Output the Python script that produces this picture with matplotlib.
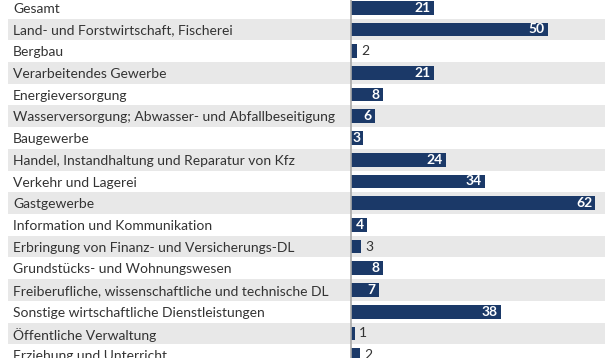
import matplotlib
matplotlib.use("Agg")
import matplotlib.pyplot as plt
from matplotlib.transforms import blended_transform_factory

categories = [
    "Gesamt",
    "Land- und Forstwirtschaft, Fischerei",
    "Bergbau",
    "Verarbeitendes Gewerbe",
    "Energieversorgung",
    "Wasserversorgung; Abwasser- und Abfallbeseitigung",
    "Baugewerbe",
    "Handel, Instandhaltung und Reparatur von Kfz",
    "Verkehr und Lagerei",
    "Gastgewerbe",
    "Information und Kommunikation",
    "Erbringung von Finanz- und Versicherungs-DL",
    "Grundstücks- und Wohnungswesen",
    "Freiberufliche, wissenschaftliche und technische DL",
    "Sonstige wirtschaftliche Dienstleistungen",
    "Öffentliche Verwaltung",
    "Erziehung und Unterricht",
]
values = [21, 50, 1.6, 21, 8, 6, 3.1, 24, 34, 62, 4, 2.6, 8, 7, 38, 0.9, 2.3]
labels = ["21", "50", "2", "21", "8", "6", "3", "24", "34", "62", "4", "3", "8", "7", "38", "1", "2"]

FONT = "Lato"
BAR = "#1b3968"
TXT = "#333333"

W, H = 610, 358
fig = plt.figure(figsize=(W / 100, H / 100), dpi=100)
ax = fig.add_axes([0, 0, 1, 1])

px_per_unit = 3.94
x0 = 351
pitch = 21.72
y0 = 7.7
ax.set_xlim(-x0 / px_per_unit, (W - x0) / px_per_unit)
ax.set_ylim((H - y0) / pitch, -y0 / pitch)
ax.axis("off")

n = len(categories)
ypos = list(range(n))
trans = blended_transform_factory(ax.transAxes, ax.transData)

for i in ypos:
    if i % 2 == 1:
        ax.fill_between([8 / W, 605 / W], i - 0.5, i + 0.5, color="#e8e8e8",
                        transform=trans, zorder=0, linewidth=0)
    ax.text(13 / W, i + 0.05, categories[i], transform=trans, ha="left", va="center",
            fontsize=10, family=FONT, color=TXT)

ax.barh(ypos, values, height=0.63, color=BAR, zorder=2)
ax.axvline(0, color="#a9a9a9", linewidth=1.2, zorder=3)

for i, (v, lab) in enumerate(zip(values, labels)):
    if v >= 3:
        ax.text(v - 3 / px_per_unit, i, lab, ha="right", va="center", color="white",
                fontsize=10, fontweight="bold", family=FONT, zorder=4)
    else:
        ax.text(v + 4 / px_per_unit, i, lab, ha="left", va="center", color=TXT,
                fontsize=10, family=FONT, zorder=4)

fig.savefig("out.png", dpi=100, facecolor="white")
